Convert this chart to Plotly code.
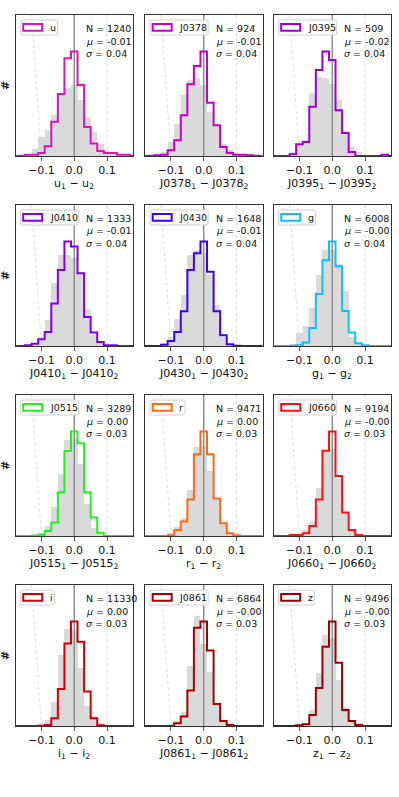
import plotly.graph_objects as go

# ---------------- data ----------------
BANDS = ["u", "J0378", "J0395", "J0410", "J0430", "g",
         "J0515", "r", "J0660", "i", "J0861", "z"]
COLORS = ["#d916b5", "#c400c8", "#9d00d6", "#8000ee", "#3c00f5", "#10bfff",
          "#22f022", "#ff6a10", "#ff1010", "#d40000", "#a80000", "#9a0000"]
N_OBJ = [1240, 924, 509, 1333, 1648, 6008, 3289, 9471, 9194, 11330, 6864, 9496]
MU = ["-0.01", "-0.01", "-0.02", "-0.01", "-0.01", "-0.00",
      "0.00", "0.00", "-0.00", "0.00", "-0.00", "-0.00"]
SIGMA = ["0.04", "0.04", "0.04", "0.04", "0.04", "0.04",
         "0.03", "0.03", "0.03", "0.03", "0.03", "0.03"]

BIN_CENTERS = [-0.16, -0.14, -0.12, -0.10, -0.08, -0.06, -0.04, -0.02, 0.00,
               0.02, 0.04, 0.06, 0.08, 0.10, 0.12, 0.14, 0.16]
BIN_WIDTH = 0.02

# colored (step) histograms, relative heights
HIST_U     = [1, 4, 4, 9, 29, 102, 185, 292, 312, 212, 87, 37, 15, 9, 9, 4, 4]
HIST_J0378 = [1, 2, 4, 17, 47, 122, 214, 269, 312, 159, 92, 27, 9, 4, 4, 2, 1]
HIST_J0395 = [0, 0, 5, 35, 42, 147, 257, 312, 287, 137, 69, 12, 0, 0, 0, 0, 4]
HIST_J0410 = [0, 2, 7, 20, 42, 127, 227, 312, 297, 217, 87, 40, 12, 2, 2, 0, 0]
HIST_J0430 = [0, 0, 4, 15, 42, 104, 227, 277, 312, 222, 104, 32, 5, 1, 0, 0, 0]
HIST_G     = [0, 0, 1, 2, 10, 53, 153, 253, 308, 235, 103, 40, 8, 2, 0, 0, 0]
HIST_J0515 = [0, 0, 1, 3, 15, 40, 130, 252, 310, 275, 130, 55, 10, 0, 0, 0, 0]
HIST_R     = [0, 0, 0, 2, 18, 43, 108, 243, 310, 243, 111, 38, 8, 2, 0, 0, 0]
HIST_J0660 = [0, 0, 3, 3, 8, 30, 108, 253, 310, 178, 70, 18, 3, 0, 0, 0, 0]
HIST_I     = [0, 0, 0, 1, 3, 23, 110, 246, 311, 251, 103, 23, 2, 0, 0, 0, 0]
HIST_J0861 = [0, 0, 0, 0, 8, 28, 105, 290, 308, 223, 65, 15, 3, 0, 0, 0, 0]
HIST_Z     = [0, 0, 0, 2, 5, 33, 113, 236, 311, 188, 48, 15, 3, 0, 0, 0, 0]

# grey reference histograms, relative heights
GRAY_U     = [3, 6, 20, 57, 77, 122, 182, 202, 212, 167, 117, 72, 37, 15, 8, 3, 1]
GRAY_J0378 = [2, 5, 12, 42, 97, 182, 227, 232, 212, 130, 90, 37, 17, 5, 2, 1, 0]
GRAY_J0395 = [0, 4, 12, 37, 47, 187, 237, 232, 215, 167, 72, 27, 12, 4, 0, 0, 0]
GRAY_J0410 = [0, 3, 10, 27, 77, 187, 272, 272, 262, 222, 112, 32, 12, 3, 0, 0, 0]
GRAY_J0430 = [0, 2, 8, 27, 82, 152, 272, 287, 277, 212, 122, 27, 7, 2, 0, 0, 0]
GRAY_G     = [0, 0, 5, 38, 58, 113, 208, 283, 283, 243, 163, 28, 8, 3, 0, 0, 0]
GRAY_J0515 = [0, 0, 5, 10, 30, 85, 185, 285, 290, 215, 95, 25, 8, 2, 0, 0, 0]
GRAY_R     = [0, 0, 0, 10, 28, 53, 138, 263, 268, 193, 113, 38, 8, 2, 0, 0, 0]
GRAY_J0660 = [0, 0, 2, 5, 18, 43, 143, 253, 258, 168, 68, 18, 5, 0, 0, 0, 0]
GRAY_I     = [0, 0, 0, 5, 18, 70, 210, 288, 290, 173, 60, 30, 8, 2, 0, 0, 0]
GRAY_J0861 = [0, 0, 0, 5, 15, 40, 178, 323, 243, 158, 63, 15, 5, 0, 0, 0, 0]
GRAY_Z     = [0, 0, 0, 3, 10, 48, 158, 270, 263, 138, 58, 15, 5, 0, 0, 0, 0]

HISTS = [HIST_U, HIST_J0378, HIST_J0395, HIST_J0410, HIST_J0430, HIST_G,
         HIST_J0515, HIST_R, HIST_J0660, HIST_I, HIST_J0861, HIST_Z]
GRAYS = [GRAY_U, GRAY_J0378, GRAY_J0395, GRAY_J0410, GRAY_J0430, GRAY_G,
         GRAY_J0515, GRAY_R, GRAY_J0660, GRAY_I, GRAY_J0861, GRAY_Z]

TICK_VALS = [-0.1, 0.0, 0.1]
TICK_TEXT = ["\u22120.1", "0.0", "0.1"]
X_RANGE = [-0.179, 0.179]
GUIDE_LEFT_X = [-0.13, -0.10]
GUIDE_RIGHT_X = [0.10, 0.10]

# ---------------- layout helpers ----------------
W, H = 399, 797
COL_LEFT = [15.5, 145.0, 273.5]
COL_W = 117.5
ROW_TOP = [15.0, 205.0, 395.0, 585.0]
ROW_H = 141.0
FONT = "DejaVu Sans"
SMALL = 9.5
CHAR_W = {"J": 0.295, "u": 0.634, "g": 0.635, "r": 0.411, "i": 0.278, "z": 0.525}


def px(x):
    return x / W


def py(y):
    return 1 - y / H


def text_width(s, size):
    return sum(CHAR_W.get(ch, 0.636) for ch in s) * size


def rounded_path(x0, y0, x1, y1, r):
    def P(x, y):
        return f"{px(x):.6f},{py(y):.6f}"
    return (f"M {P(x0 + r, y0)} L {P(x1 - r, y0)} Q {P(x1, y0)} {P(x1, y0 + r)} "
            f"L {P(x1, y1 - r)} Q {P(x1, y1)} {P(x1 - r, y1)} "
            f"L {P(x0 + r, y1)} Q {P(x0, y1)} {P(x0, y1 - r)} "
            f"L {P(x0, y0 + r)} Q {P(x0, y0)} {P(x0 + r, y0)} Z")


fig = go.Figure()
shapes = []
annotations = []
layout_axes = {}

edges = [c - BIN_WIDTH / 2 for c in BIN_CENTERS] + [BIN_CENTERS[-1] + BIN_WIDTH / 2]

for k, band in enumerate(BANDS):
    r, c = divmod(k, 3)
    suffix = "" if k == 0 else str(k + 1)
    xa, ya = "x" + suffix, "y" + suffix
    L = COL_LEFT[c]
    R = L + COL_W
    T = ROW_TOP[r]
    B = T + ROW_H
    counts = HISTS[k]
    gray = GRAYS[k]
    col = COLORS[k]
    ymax = 1.35 * max(counts)

    fig.add_trace(go.Bar(x=BIN_CENTERS, y=gray, width=BIN_WIDTH,
                         marker=dict(color="#dadada", line=dict(width=0)),
                         xaxis=xa, yaxis=ya, showlegend=False, hoverinfo="skip"))
    for gx in (GUIDE_LEFT_X, GUIDE_RIGHT_X):
        fig.add_trace(go.Scatter(x=gx, y=[ymax, 0], mode="lines",
                                 line=dict(color="#d2d2d2", width=0.8, dash="dot"),
                                 xaxis=xa, yaxis=ya, showlegend=False, hoverinfo="skip"))
    fig.add_trace(go.Scatter(x=[0, 0], y=[0, ymax], mode="lines",
                             line=dict(color="#808080", width=1.3),
                             xaxis=xa, yaxis=ya, showlegend=False, hoverinfo="skip"))
    xs = [X_RANGE[0] - 0.05] + edges + [X_RANGE[1] + 0.05]
    ys = [0] + list(counts) + [0, 0]
    fig.add_trace(go.Scatter(x=xs, y=ys, mode="lines",
                             line=dict(color=col, width=2, shape="hv"),
                             xaxis=xa, yaxis=ya, showlegend=False, hoverinfo="skip"))

    layout_axes["xaxis" + suffix] = dict(
        domain=[px(L), px(R)], anchor=ya, range=X_RANGE,
        tickvals=TICK_VALS, ticktext=TICK_TEXT, ticks="outside", ticklen=3.5,
        tickwidth=0.8, tickcolor="#333", tickfont=dict(size=11, color="#111"),
        showline=True, mirror=True, linecolor="#333", linewidth=1,
        showgrid=False, zeroline=False, fixedrange=True)
    layout_axes["yaxis" + suffix] = dict(
        domain=[py(B), py(T)], anchor=xa, range=[0, ymax],
        showticklabels=False, ticks="", showline=True, mirror=True,
        linecolor="#333", linewidth=1, showgrid=False, zeroline=False,
        fixedrange=True)

    # x-axis title
    annotations.append(dict(
        text=f"{band}<sub>1</sub> \u2212 {band}<sub>2</sub>",
        x=px((L + R) / 2), y=py(B + 27.5), xref="paper", yref="paper",
        xanchor="center", yanchor="middle", showarrow=False,
        font=dict(size=11, color="#111")))

    # y label '#'
    if c == 0:
        annotations.append(dict(
            text="<b>#</b>", x=px(5.5), y=py((T + B) / 2), xref="paper", yref="paper",
            xanchor="center", yanchor="middle", showarrow=False, textangle=-90,
            font=dict(size=11, color="#111")))

    # stats text
    sx = L + 0.585 * COL_W
    for i, line in enumerate([f"N = {N_OBJ[k]}", f"<i>\u03bc</i> = {MU[k]}",
                              f"<i>\u03c3</i> = {SIGMA[k]}"]):
        annotations.append(dict(
            text=line, x=px(sx), y=py(T + 13.3 + 12.7 * i), xref="paper",
            yref="paper", xanchor="left", yanchor="middle", showarrow=False,
            font=dict(size=SMALL, color="#111")))

    # manual legend
    bx0 = L + 5.2
    by0 = T + 5.0
    by1 = by0 + 15.0
    patch_x0 = bx0 + 2.5
    patch_x1 = patch_x0 + 19.0
    label_x = patch_x1 + 5.5
    bx1 = label_x + text_width(band, SMALL) + 4.0
    shapes.append(dict(type="path", path=rounded_path(bx0, by0, bx1, by1, 2.0),
                       xref="paper", yref="paper", fillcolor="rgba(255,255,255,0.8)",
                       line=dict(color="#d0d0d0", width=1), layer="above"))
    shapes.append(dict(type="rect", x0=px(patch_x0), x1=px(patch_x1),
                       y0=py(by0 + 4.0), y1=py(by0 + 10.7), xref="paper", yref="paper",
                       fillcolor="white", line=dict(color=col, width=2), layer="above"))
    annotations.append(dict(
        text=band, x=px(label_x), y=py((by0 + by1) / 2), xref="paper", yref="paper",
        xanchor="left", yanchor="middle", showarrow=False,
        font=dict(size=SMALL, color="#111")))

fig.update_layout(
    width=W, height=H, margin=dict(l=0, r=0, t=0, b=0),
    paper_bgcolor="white", plot_bgcolor="white",
    font=dict(family=FONT, color="#111"),
    bargap=0, showlegend=False,
    shapes=shapes, annotations=annotations,
    **layout_axes)

fig.write_html("out.html",
               config={"displayModeBar": False, "staticPlot": True},
               post_script="document.body.style.margin='0';"
                           "document.body.style.overflow='hidden';")
